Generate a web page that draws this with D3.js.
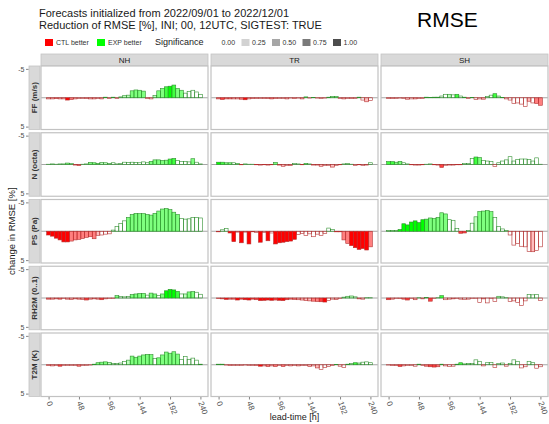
<!DOCTYPE html>
<html>
<head>
<meta charset="utf-8">
<script src="https://cdn.jsdelivr.net/npm/d3@7"></script>
<style>
  body { margin: 0; background: #fff; }
  svg { display: block; font-family: "Liberation Sans", Arial, Helvetica, sans-serif; }
</style>
</head>
<body>
<svg id="chart" width="549" height="424"></svg>
<script>
// Lead times (h) and facet categories
const leadTimes = [0,6,12,18,24,30,36,42,48,54,60,66,72,78,84,90,96,102,108,114,120,
                   126,132,138,144,150,156,162,168,174,180,186,192,198,204,210,216,222,228,234,240];
const xTicks = [0, 48, 96, 144, 192, 240];
const yTicks = [-5, 5];
const regions = ["NH", "TR", "SH"];
const variables = ["FF (m/s)", "N (octa)", "PS (Pa)", "RH2M (0..1)", "T2M (K)"];
const sigLevels = [0, 0.25, 0.5, 0.75, 1];

// Change in RMSE [%] per lead time, and significance (0..1) per lead time
const ffNH = [0.2,0.2,0.15,0.2,0.2,0.4,0.3,0.2,0.1,0.1,0.15,0.2,0.2,0.1,0.2,-0.1,0.15,-0.1,0.1,
              -0.15,-0.35,-0.45,-1.2,-1.35,-1.3,-1.15,0.15,0.2,-0.4,-1.2,-1.6,-1.9,-2.0,-2.2,-1.6,-1.3,-0.8,-1.1,-1.3,-1.0,-0.6];
const ffNHSig = [0.25,0.25,0.5,0.25,0.25,1,0.5,0.25,0,0,0.25,0.25,0.25,0,0.25,0,0,0,0,
                 0,0.25,0.25,0.5,0.5,0.5,0.5,0,0,0.25,0.5,0.5,0.75,1,0.75,0.5,0.5,0,0,0,0,0];
const ffTR = [0.2,0.3,0.2,0.2,0.2,0.2,0.25,0.35,0.2,0.15,0.1,0.1,0.1,0.15,0.2,0.15,0.1,0.1,0.2,0.05,
              0.15,0.05,0.2,-0.15,0.05,-0.05,0.05,0.1,0.05,-0.1,-0.2,-0.2,0.1,0.2,0.15,0.1,0.1,-0.1,0.4,0.7,0.5];
const ffTRSig = [0.5,0.75,0.5,0.5,0.25,0.25,0.5,1,0.25,0.25,0.25,0,0.25,0.25,0.5,0.25,0,0,0.25,0,
                 0.25,0,0.25,0.5,0,0,0,0,0,0.25,0.5,0.5,0,0.25,0,0.25,0,0.25,0,0.25,0];
const ffSH = [0.1,0.1,0.1,0.05,0.1,0.25,0.2,0.2,0.15,0.1,-0.1,-0.05,-0.1,-0.1,-0.3,-0.6,-0.6,-0.5,-0.6,-0.3,
              -0.1,0.15,-0.05,0.3,0.2,0.25,-0.2,-0.45,-0.7,-0.3,-0.05,0.2,0.4,1.0,0.9,1.1,1.5,0.6,0.9,1.0,1.3];
const ffSHSig = [0.25,0.25,0,0,0,0.25,0,0.25,0,0,0,0,0,0,0,0,0.25,0,0.75,0,
                 0,0,0,0,0,0.25,0,0,0.75,0.25,0,0,0,0,0,0,0,0.25,0,0.5,0.5];

const nNH = [-0.05,-0.1,-0.05,-0.1,-0.1,-0.25,-0.15,0.1,0.2,-0.05,-0.1,-0.35,-0.3,-0.2,-0.35,-0.3,-0.2,-0.3,-0.1,-0.2,
             -0.4,-0.35,-0.4,-0.35,-0.3,-0.45,-0.3,-0.55,-0.8,-0.8,-0.7,-0.75,-0.95,-1.05,-0.7,-0.5,-0.5,-0.45,-1.0,-0.4,-0.1];
const nNHSig = [0.25,0.25,0,0.25,0.25,0.5,0.25,0,0.5,0,0.25,0.5,0.5,0.5,0.25,0.25,0.25,0,0,0,
                0,0,0,0,0,0,0,0.5,0.5,0.5,0.5,0.5,0.75,0.75,0,0,0,0,0.5,0,0];
const nTR = [-0.4,-0.4,-0.3,-0.3,-0.3,-0.2,0.05,-0.1,-0.05,-0.05,0.05,0.1,0.05,0.1,0.05,-0.35,0.1,0.3,0.15,0.2,
             -0.2,-0.1,0.05,-0.2,-0.1,0.1,0.1,0.3,0.2,0.2,0.45,0.15,0.05,-0.1,-0.15,-0.05,0.15,0.05,0.2,0.1,-0.3];
const nTRSig = [1,0.75,0.5,0.5,0,0.25,0,0.25,0,0,0,0,0,0.25,0,0.5,0,0.25,0,0.25,
                0,0,0,0.5,0,0,0,0.25,0,0,0.25,0,0,0,0.25,0,0,0,0,0,0];
const nSH = [-0.5,-0.5,-0.4,-0.55,-0.3,-0.1,0.05,0.1,0.1,0.05,-0.05,-0.1,0.05,0.1,0.5,0.15,0.1,0.1,0.05,0.05,
             -0.2,-0.15,-1.05,-1.3,-1.2,-0.7,-0.6,-0.5,0.35,-0.3,-0.6,-0.8,-1.35,-0.6,-0.9,-0.95,-0.95,-0.9,-0.6,-1.15,-0.05];
const nSHSig = [0.75,0.75,0.5,0.5,0,0,0,0,0,0,0,0,0,0,0.75,0,0,0,0,0,
                0,0,0,0.75,0.5,0,0,0,0,0,0,0,0,0,0,0,0,0,0,0,0];

const psNH = [0.65,0.85,1.2,1.5,1.85,1.85,1.7,1.5,1.4,1.25,1.05,0.95,1.3,0.7,0.65,0.5,0.45,-0.2,-0.8,-1.35,
              -1.8,-2.4,-2.9,-3.1,-3.05,-3.05,-2.9,-2.8,-3.1,-3.5,-3.85,-3.95,-3.75,-3.3,-2.9,-2.2,-2.1,-2.15,-2.35,-2.4,-2.3];
const psNHSig = [1,1,1,1,1,1,0.5,0.5,0.5,0.5,0.5,0.5,0.5,0.25,0,0,0,0,0,0,
                 0,0.5,0.5,0.5,0.5,0.5,0.5,0.5,0.5,0.5,0.5,0.5,0.5,0.5,0.5,0,0,0,0,0,0];
const psTR = [0.1,-0.25,-0.5,0.3,1.8,0.15,2.0,0.15,2.2,0.1,0.2,1.9,0.2,1.65,0.3,2.2,2.0,1.9,1.8,1.7,
              1.4,0.55,0.4,0.75,0.45,0.95,0.5,0.7,0.4,-0.55,-0.3,0.1,0.1,1.5,2.1,2.5,2.85,3.15,3.0,3.25,2.7];
const psTRSig = [0,0,0,1,1,0,1,0,1,0,0,1,0,1,0,1,1,1,1,1,
                 1,0,0,0,0,0,0,0,0,0,0,0,0,0.5,0.5,1,1,1,1,1,0.5];
const psSH = [-0.1,-0.15,-0.1,-0.3,-1.3,-1.1,-1.6,-1.8,-1.5,-2.0,-2.1,-2.3,-2.2,-2.4,-3.2,-3.0,-2.0,-1.9,-0.5,0.35,
              0.3,-0.1,-1.4,-2.5,-3.4,-3.5,-3.6,-3.4,-2.4,-0.8,-0.4,-0.15,0.65,2.4,2.1,2.6,2.7,3.5,3.55,3.3,2.7];
const psSHSig = [0.25,0.25,0.25,1,1,1,1,1,1,1,0.75,0.5,0.5,0.5,0.5,0.5,0,0,0,0.75,
                 0.75,0,0,0.25,0.5,0.5,0.5,0.5,0,0,0,0,0,0,0,0,0,0,0.25,0,0];

const rhNH = [0.2,0.2,0.15,0.2,0.1,0.2,0.25,0.15,0.2,0.25,0.35,0.2,0.15,0.2,0.3,0.15,0.1,0.1,
              -0.4,-0.25,-0.2,-0.25,-0.6,-0.7,-0.8,-0.8,-0.5,-0.85,-0.7,-0.4,-0.7,-1.25,-1.5,-1.4,-1.15,-0.7,-0.7,-1.05,-1.1,-1.0,-0.65];
const rhNHSig = [0.5,0.25,0,0.5,0,0.25,0.25,0,0.25,0.25,0.75,0.25,0,0.25,0.75,0,0,0,
                 0.5,0,0,0,0.5,0.5,0.5,0.5,0,0.5,0.5,0,0.5,1,1,1,0.75,0,0.25,0.5,0.5,0,0];
const rhTR = [0.1,0.15,0.25,0.2,0.2,0.35,0.2,0.3,0.35,0.2,0.3,0.45,0.4,0.35,0.4,0.35,0.4,0.45,0.3,0.2,
              0.25,0.3,0.35,0.45,0.5,0.55,0.6,0.65,0.7,0.4,0.2,0.25,0.05,-0.15,-0.3,-0.35,-0.2,0.15,0.2,-0.05,-0.05];
const rhTRSig = [0.5,0.5,1,0.5,0.5,1,0.75,1,1,0.75,0.75,1,1,1,1,0.75,1,1,0.75,0.5,
                 0.5,0.25,0.25,0.25,0.25,0.5,0.5,0.75,1,0,0,0.25,0,0,0.25,0.25,0,0,0,0,0];
const rhSH = [0.3,0.2,0.1,0.1,0.2,0.35,0.1,0.3,-0.05,0.15,-0.1,0.55,0.1,-0.05,-0.4,0.3,0.2,0.15,0.05,0.2,
              0.25,0.2,0.05,0.05,0.8,0.15,0.85,0.1,0.6,-0.3,-0.2,-0.05,0.6,0.5,0.8,1.3,0.5,-0.6,-0.55,-0.6,0.45];
const rhSHSig = [0.75,0.25,0,0.25,0.5,0.75,0,0.25,0,0,0,0.75,0,0,0.75,0,0,0,0,0,
                 0,0,0,0,0,0,0,0,0,0.25,0,0,0,0,0,0,0,0,0,0,0];

const t2NH = [0.15,0.2,0.1,0.25,0.1,0.15,0.1,0.1,0.25,0.1,0.1,0.05,
              -0.1,-0.35,-0.45,-0.5,-0.4,-0.25,-0.2,-0.3,-0.55,-0.8,-1.5,-1.3,-1.5,-1.7,-1.8,-1.75,-1.05,-1.2,
              -1.7,-2.2,-2.0,-2.25,-1.85,-0.9,-1.4,-0.9,-1.15,-0.8,-0.1];
const t2NHSig = [0.25,0.25,0,0.75,0,0,0,0,0.5,0,0,0,
                 0,0.5,0.5,0.5,0.25,0,0,0,0,0.25,0.5,0.5,0.5,0.5,0.5,0.5,0,0.5,
                 0.5,0.5,0.5,0.5,0.5,0,0,0,0,0,0];
const t2TR = [-0.1,-0.1,0.05,0.1,0.1,0.1,0.1,0.05,0.1,0.1,0.15,0.25,0.2,0.3,0.2,0.3,0.1,0.3,0.1,0.2,
              0.15,0.2,0.1,0.15,0.3,0.2,0.55,0.8,0.5,0.3,0.15,-0.05,0.25,0.5,-0.1,-0.2,-0.35,-0.3,-0.45,-0.5,-0.35];
const t2TRSig = [0.5,0.25,0,0.25,0,0,0,0,0,0,0.25,1,0.25,0.5,0.25,0.5,0,0.5,0,0.25,
                 0,0.25,0,0,0.25,0,0.25,0,0,0,0,0,0,0,0.25,0.25,0.75,0.25,0,0,0];
const t2SH = [0.05,0.1,0.15,0.3,0.2,0.1,0.1,0.25,-0.1,0.1,0.25,0.35,0.4,0.35,-0.1,0.2,0.3,0.25,-0.1,-0.35,
              -0.15,-0.2,-0.25,-0.85,-0.6,0.2,-0.35,-0.4,0.5,-0.25,-0.3,0.25,-0.25,-0.85,-0.6,0.55,0.35,-0.6,-0.35,0.6,0.35];
const t2SHSig = [0,0.25,0.25,0.75,0.25,0,0,0,0,0,0.5,0.75,0.75,0.5,0,0,0,0,0,0.75,
                 0.25,0.25,0,0,0,0,0,0,0,0,0,0,0,0,0,0,0,0,0,0,0];

// Facet table: row = variable, col = region
const facetValues = [[ffNH, ffTR, ffSH], [nNH, nTR, nSH], [psNH, psTR, psSH], [rhNH, rhTR, rhSH], [t2NH, t2TR, t2SH]];
const facetSig = [[ffNHSig, ffTRSig, ffSHSig], [nNHSig, nTRSig, nSHSig], [psNHSig, psTRSig, psSHSig],
                  [rhNHSig, rhTRSig, rhSHSig], [t2NHSig, t2TRSig, t2SHSig]];

// ---- layout ----
const svg = d3.select("#chart");
const panelW = 167, panelH = 63.5;
const panelLeft = 41, panelTop = 66, colStep = 170, rowStep = 66.75;
const stripH = 11.5, stripW = 11;

const x = d3.scaleLinear().domain([-12, 252]).range([0, panelW]);
const y = d3.scaleLinear().domain([-5.5, 5.5]).range([0, panelH]);   // improvement (negative) points up
const barW = x(6) - x(0);

const fillColor = v => v < 0 ? "#00ff00" : "#ff0000";
const lineColor = v => v < 0 ? "#2e8f2e" : "#b53030";

// ---- titles ----
svg.append("text").attr("x", 39).attr("y", 17).attr("font-size", 11).attr("fill", "#1a1a1a")
  .text("Forecasts initialized from 2022/09/01 to 2022/12/01");
svg.append("text").attr("x", 39).attr("y", 28.5).attr("font-size", 11).attr("fill", "#1a1a1a")
  .text("Reduction of RMSE [%], INI; 00, 12UTC, SIGTEST: TRUE");
svg.append("text").attr("x", 417).attr("y", 27).attr("font-size", 21).attr("fill", "#000")
  .text("RMSE");

// ---- legend ----
const legend = svg.append("g");
const keyY = 39, keyH = 7, keyW = 8;
[["CTL better", "#ff0000", 45], ["EXP better", "#00ff00", 97]].forEach(([lab, col, lx]) => {
  legend.append("rect").attr("x", lx).attr("y", keyY).attr("width", keyW).attr("height", keyH).attr("fill", col);
  legend.append("text").attr("x", lx + 11).attr("y", keyY + keyH / 2).attr("dy", "0.35em")
    .attr("font-size", 7).attr("fill", "#333").text(lab);
});
legend.append("text").attr("x", 155).attr("y", keyY + keyH / 2 - 0.5).attr("dy", "0.35em")
  .attr("font-size", 9).attr("fill", "#1a1a1a").text("Significance");
sigLevels.forEach((s, k) => {
  const bx = 211 + k * 30.5;
  legend.append("rect").attr("x", bx).attr("y", keyY).attr("width", keyW).attr("height", keyH)
    .attr("fill", "#4d4d4d").attr("fill-opacity", s);
  legend.append("text").attr("x", bx + 10.5).attr("y", keyY + keyH / 2).attr("dy", "0.35em")
    .attr("font-size", 7).attr("fill", "#333").text(d3.format(".2f")(s));
});

// ---- column strips ----
regions.forEach((r, c) => {
  const sx = panelLeft + c * colStep;
  svg.append("rect").attr("x", sx).attr("y", panelTop - stripH - 0.5).attr("width", panelW).attr("height", stripH)
    .attr("fill", "#d9d9d9").attr("stroke", "#c4c4c4").attr("stroke-width", 0.8);
  svg.append("text").attr("x", sx + panelW / 2).attr("y", panelTop - stripH / 2 - 0.5).attr("dy", "0.35em")
    .attr("text-anchor", "middle").attr("font-size", 8).attr("fill", "#1a1a1a").text(r);
});

// ---- panels ----
variables.forEach((v, r) => {
  const py = panelTop + r * rowStep;

  // row strip on the left
  svg.append("rect").attr("x", panelLeft - stripW - 1).attr("y", py).attr("width", stripW).attr("height", panelH)
    .attr("fill", "#d9d9d9").attr("stroke", "#c4c4c4").attr("stroke-width", 0.8);
  svg.append("text")
    .attr("transform", `translate(${panelLeft - 1 - stripW / 2},${py + panelH / 2}) rotate(-90)`)
    .attr("dy", "0.35em").attr("text-anchor", "middle").attr("font-size", 8).attr("font-weight", "bold")
    .attr("fill", "#333").text(v);

  // y axis, outside the strip
  const ya = svg.append("g").attr("transform", `translate(${panelLeft - stripW - 1.5},${py})`)
    .call(d3.axisLeft(y).tickValues(yTicks).tickSize(2.5).tickPadding(1.5).tickFormat(d => String(d)));
  ya.select(".domain").remove();
  ya.selectAll("line").attr("stroke", "#333").attr("stroke-width", 0.6);
  ya.selectAll("text").attr("font-size", 7).attr("fill", "#4d4d4d").attr("font-family", null);

  regions.forEach((reg, c) => {
    const px = panelLeft + c * colStep;
    const g = svg.append("g").attr("transform", `translate(${px},${py})`);
    g.append("rect").attr("width", panelW).attr("height", panelH).attr("fill", "#fff");
    g.append("line").attr("x1", 0).attr("x2", panelW).attr("y1", y(0)).attr("y2", y(0))
      .attr("stroke", "#a6a6a6").attr("stroke-width", 1);

    const vals = facetValues[r][c], sig = facetSig[r][c];
    const rows = leadTimes.map((t, i) => ({ t, v: vals[i], s: sig[i] }));
    g.selectAll("rect.bar").data(rows).join("rect").attr("class", "bar")
      .attr("x", d => x(d.t) - barW / 2)
      .attr("width", barW)
      .attr("y", d => y(Math.min(0, d.v)))
      .attr("height", d => Math.abs(y(d.v) - y(0)))
      .attr("fill", d => fillColor(d.v))
      .attr("fill-opacity", d => d.s)
      .attr("stroke", d => lineColor(d.v))
      .attr("stroke-width", 0.6);

    g.append("rect").attr("width", panelW).attr("height", panelH).attr("fill", "none")
      .attr("stroke", "#c2c2c2").attr("stroke-width", 1.2);

    // x axis on the bottom row
    if (r === variables.length - 1) {
      const xa = svg.append("g").attr("transform", `translate(${px},${py + panelH + 0.5})`)
        .call(d3.axisBottom(x).tickValues(xTicks).tickSize(2.5).tickFormat(d => String(d)));
      xa.select(".domain").remove();
      xa.selectAll("line").attr("stroke", "#333").attr("stroke-width", 0.6);
      xa.selectAll("text").attr("font-size", 8).attr("fill", "#4d4d4d").attr("font-family", null)
        .attr("x", 0).attr("y", 0).attr("dy", "0.35em")
        .attr("text-anchor", "start")
        .attr("transform", "translate(0,4.5) rotate(70)");
    }
  });
});

// ---- axis titles ----
svg.append("text").attr("x", 294.5).attr("y", 420).attr("text-anchor", "middle")
  .attr("font-size", 9).attr("fill", "#1a1a1a").text("lead-time [h]");
svg.append("text").attr("transform", `translate(15,${panelTop + (4 * rowStep + panelH) / 2}) rotate(-90)`)
  .attr("text-anchor", "middle").attr("font-size", 9.5).attr("fill", "#1a1a1a").text("change in RMSE [%]");
</script>
</body>
</html>
